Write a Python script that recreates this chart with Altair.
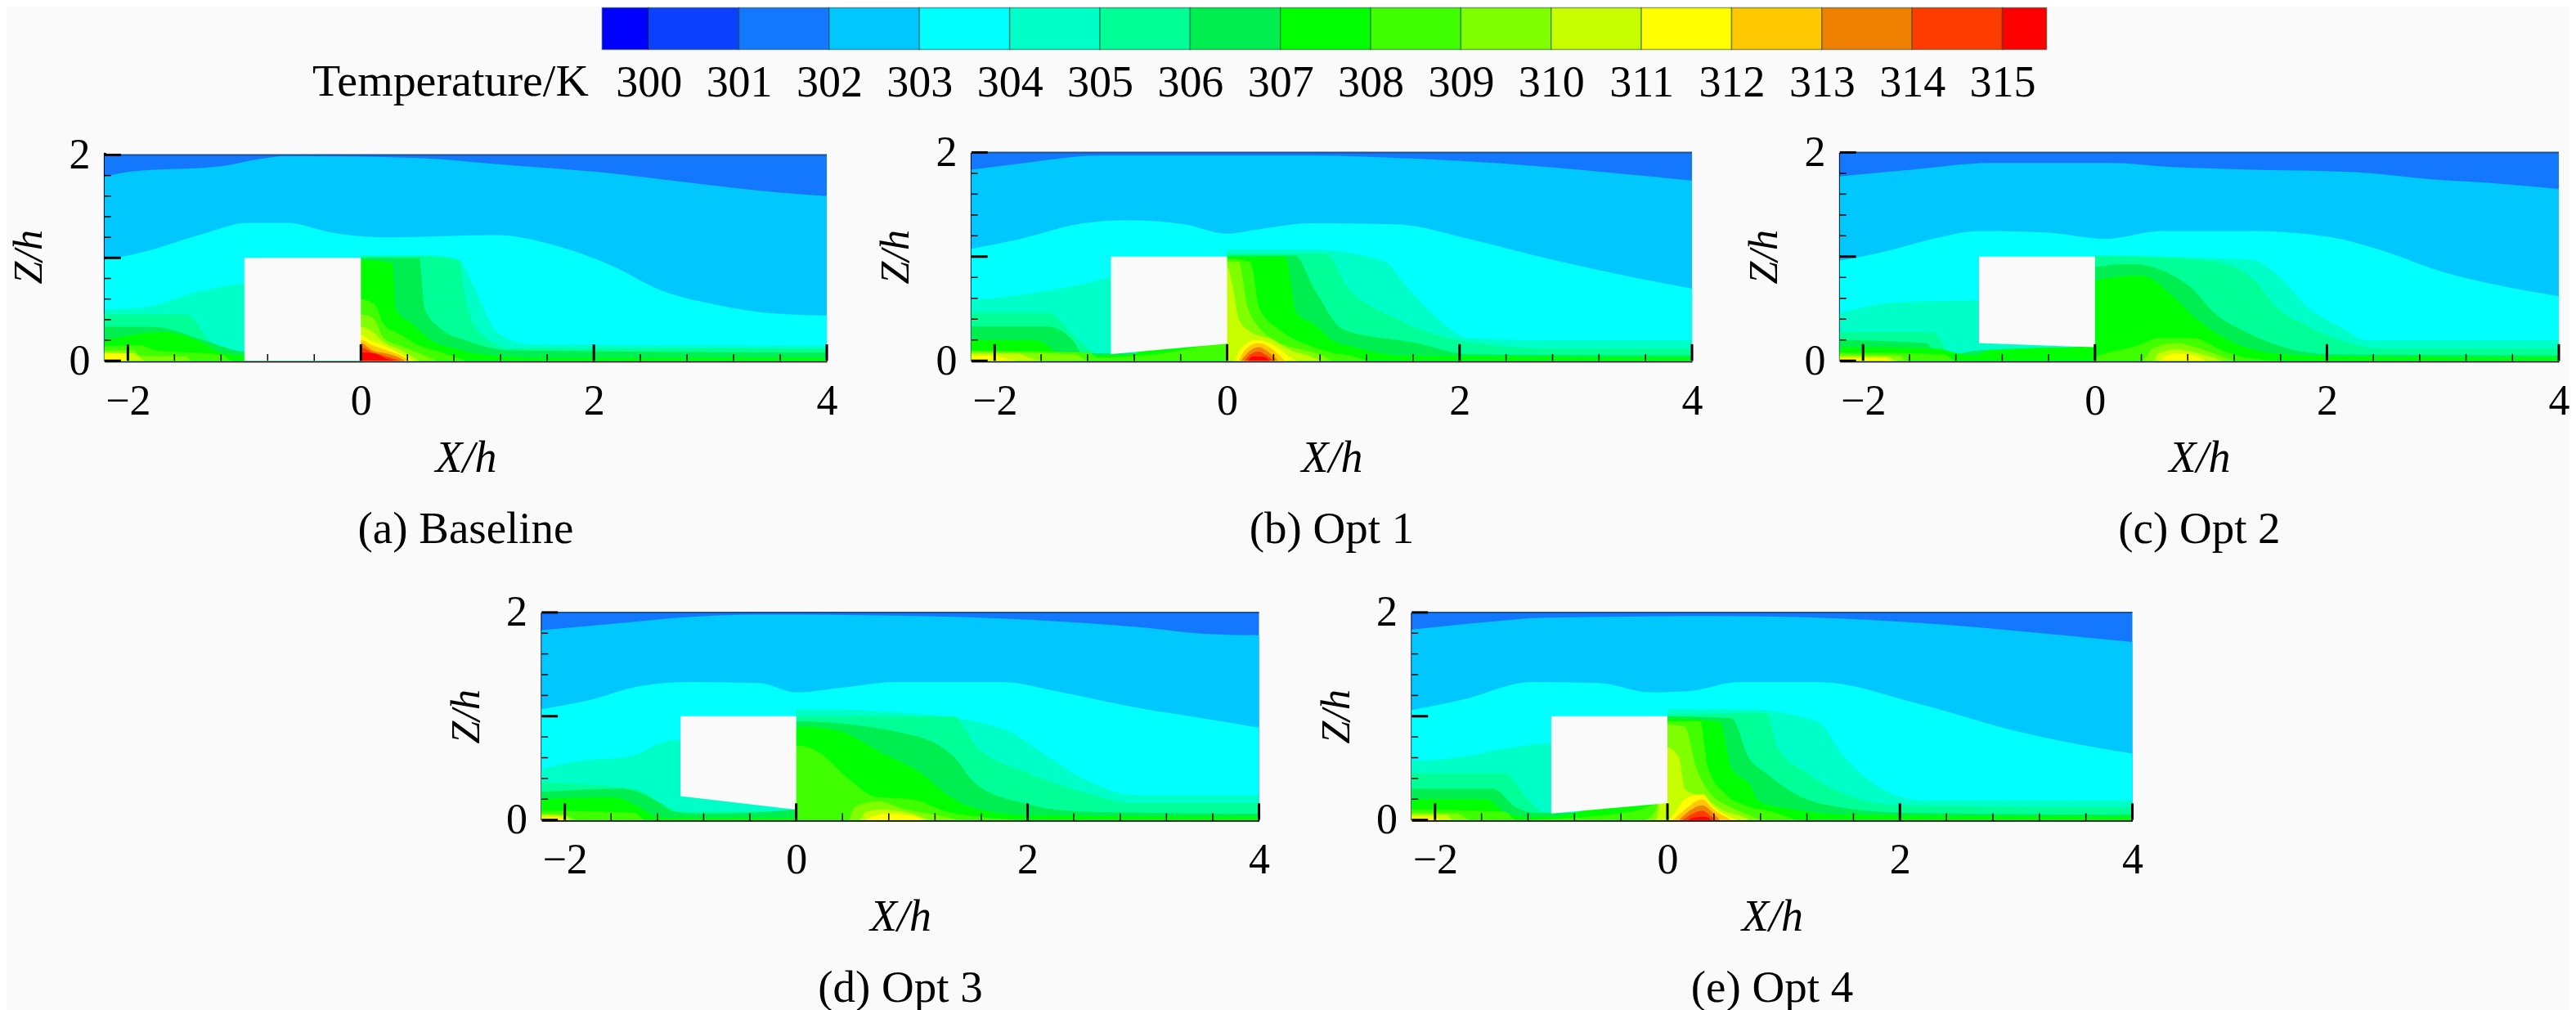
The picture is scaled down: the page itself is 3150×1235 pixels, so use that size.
import altair as alt
import pandas as pd

FONT = "Liberation Serif"
BG = "#fafafa"

tick_labels = list(range(300, 316))
bar_edges = [299.484] + tick_labels + [315.49]
bar_colors = ["#0000ff", "#0c40ff", "#1478ff", "#00c8ff", "#00ffff", "#00ffc8", "#00ff96", "#00ee50",
              "#00ff00", "#40ff00", "#80ff00", "#c8ff00", "#ffff00", "#ffc800", "#f08000", "#ff3c00", "#ff0000"]

# band ids map on the colorbar cells
levels = [301, 302, 303, 304, 305, 306, 307, 308, 309, 310, 311, 312, 313, 314, 315]
level_colors = ["#1478ff", "#00c8ff", "#00ffff", "#00ffc8", "#00ff96", "#00ee50", "#00ff00", "#40ff00",
                "#80ff00", "#c8ff00", "#ffff00", "#ffc800", "#f08000", "#ff3c00", "#ff0000"]

top_band = [(-2.2, 2), (4, 2)]

a_levels = {
    302: [(-2.2, 1.79), (-1.96, 1.84), (-1.2, 1.89), (-.87, 1.96), (-.63, 1.99), (.5, 1.97), (1.17, 1.91), (2.07, 1.83), (2.83, 1.73), (3.54, 1.64), (4, 1.6)],
    303: [(-2.2, .98), (-1.82, 1.07), (-1.39, 1.22), (-.96, 1.34), (-.63, 1.34), (-.25, 1.245), (.22, 1.2), (1.17, 1.22), (1.65, 1.125), (2.12, .94), (2.6, .675), (3.07, .54), (3.54, .46), (4, .44)],
    304: [(-2.2, .5), (-1.86, .52), (-1.39, .675), (-1, .75), (-.01, .8), (0, 1.02), (.6, 1.02), (.84, .98), (.98, .7), (1.17, .28), (1.46, .16), (4, .145)],
    305: [(-2.2, .45), (-1.5, .45), (-1.3, .2), (-1.2, .09), (-1, .08), (-.01, .08), (0, 1.02), (.55, 1.02), (.84, .98), (.9, .6), (1.0, .3), (1.3, .12), (4, .12)],
    306: [(-2.2, .33), (-1.77, .33), (-1.35, .2), (-1.01, .09), (-.5, .07), (-.01, .07), (0, 1.0), (.5, 1.0), (.55, .5), (.7, .3), (.9, .2), (1.3, .1), (4, .08)],
    307: [(-2.2, .2), (-1.7, .28), (-1.4, .2), (-1.2, .08), (-1, .05), (-.01, .05), (0, .98), (.27, .95), (.3, .5), (.45, .35), (.6, .2), (.8, .12), (1.0, .07), (1.5, .03), (4, .03)],
    308: [(-2.2, .14), (-1.9, .15), (-1.75, .1), (-1.2, .06), (-1.1, 0), (-.01, 0), (0, .6), (.12, .55), (.2, .35), (.35, .25), (.5, .15), (.7, .08), (.9, 0)],
    309: [(-2.2, .1), (-1.95, .1), (-1.9, .05), (-1.5, .04), (-1.45, 0), (-.01, 0), (0, .45), (.1, .42), (.2, .22), (.35, .14), (.55, .05), (.65, 0)],
    310: [(-2.2, .08), (-1.95, .07), (-1.85, 0), (-.01, 0), (0, .33), (.08, .3), (.2, .18), (.35, .1), (.5, 0)],
    311: [(-2.2, .07), (-2.03, .07), (-2, 0), (-.01, 0), (0, .25), (.08, .2), (.2, .15), (.35, .06), (.45, 0)],
    312: [(-.01, 0), (0, .2), (.1, .15), (.25, .09), (.38, .03), (.42, 0)],
    313: [(-.01, 0), (0, .17), (.1, .1), (.22, .07), (.35, .02), (.38, 0)],
    314: [(-.01, 0), (0, .13), (.1, .08), (.2, .05), (.32, .01), (.35, 0)],
    315: [(-.01, 0), (0, .08), (.12, .07), (.2, .03), (.3, 0)],
}
a_hole = [(-1, 0), (0, 0)]

b_levels = {
    302: [(-2.2, 1.835), (-1.74, 1.9), (-1.1, 1.97), (.72, 1.97), (1.63, 1.94), (2.76, 1.86), (3.45, 1.79), (4, 1.73)],
    303: [(-2.2, 1.075), (-1.78, 1.17), (-1.24, 1.32), (-.87, 1.35), (-.37, 1.31), (0, 1.22), (.26, 1.26), (.72, 1.32), (1.45, 1.31), (2.08, 1.17), (2.76, .98), (3.45, .81), (4, .695)],
    304: [(-2.2, .58), (-1.74, .64), (-1.19, .75), (-1, .8), (-.01, .8), (0, 1.07), (.72, 1.07), (1.35, .96), (1.54, .72), (1.81, .41), (2.08, .22), (2.76, .2), (4, .2)],
    305: [(-2.2, .46), (-1.55, .46), (-1.28, .2), (-1.1, .07), (-.01, .07), (0, 1.03), (.85, 1.03), (1.03, .72), (1.45, .41), (1.9, .22), (2.76, .12), (4, .12)],
    306: [(-2.2, .33), (-1.55, .33), (-1.33, .2), (-1.24, .07), (-.01, .1), (0, 1.01), (.58, 1.01), (.76, .67), (1.0, .3), (1.63, .17), (2.08, .065), (4, .05)],
    307: [(-2.2, .2), (-1.65, .2), (-1.42, .065), (-1.05, .05), (-.8, .06), (-.75, .1), (-.1, .2), (0, 1.0), (.5, 1.0), (.6, .45), (.75, .35), (.9, .2), (1.1, .13), (1.5, .05), (4, .03)],
    308: [(-2.2, .1), (-1.2, .08), (-1.1, .03), (-.01, .2), (0, .98), (.2, .95), (.28, .5), (.45, .3), (.7, .15), (.9, .08), (1.1, .04), (1.2, 0)],
    309: [(-2.2, .09), (-1.3, .06), (-1.2, 0), (-.01, 0), (0, .95), (.1, .95), (.18, .5), (.4, .2), (.6, .12), (.8, .06), (.9, 0)],
    310: [(-2.2, .07), (-1.8, .07), (-1.7, .03), (-1.6, 0), (-.01, 0), (0, .9), (.05, .7), (.1, .4), (.2, .28), (.4, .2), (.55, .1), (.7, .05), (.8, 0)],
    311: [(-2.2, .05), (-2, .05), (-1.9, .02), (-1.8, 0), (.05, 0), (.12, .12), (.25, .2), (.4, .15), (.55, .03), (.6, 0)],
    312: [(.1, 0), (.15, .1), (.27, .17), (.38, .12), (.47, .03), (.5, 0)],
    313: [(.12, 0), (.18, .08), (.27, .13), (.36, .08), (.44, 0)],
    314: [(.15, 0), (.2, .06), (.27, .09), (.34, .05), (.4, 0)],
    315: [(.18, 0), (.22, .04), (.3, .04), (.37, 0)],
}
b_hole = [(-1, .065), (0, .165)]

c_levels = {
    302: [(-2.2, 1.77), (-1.58, 1.835), (-.9, 1.9), (.13, 1.9), (.67, 1.86), (1.35, 1.835), (2.25, 1.81), (2.92, 1.74), (3.5, 1.7), (4, 1.65)],
    303: [(-2.2, .96), (-1.77, 1.06), (-1.36, 1.18), (-1, 1.245), (-.41, 1.23), (.09, 1.17), (.58, 1.245), (1.35, 1.245), (2.01, 1.19), (2.47, 1.06), (3.01, .85), (3.5, .72), (4, .62)],
    304: [(-2.2, .46), (-1.72, .56), (-1.05, .58), (-.01, .58), (0, 1.01), (1.35, .97), (1.57, .83), (1.84, .51), (2.11, .33), (2.34, .2), (4, .2)],
    305: [(-2.2, .275), (-1.4, .275), (-1.22, .04), (-.01, .04), (0, 1.01), (.99, .96), (1.35, .8), (1.57, .51), (1.84, .33), (2.11, .2), (2.47, .12), (4, .12)],
    306: [(-2.2, .2), (-1.45, .17), (-1.36, .04), (-1, .1), (-.01, .14), (0, .9), (.31, .93), (.81, .72), (1.03, .46), (1.35, .25), (1.66, .12), (2.01, .065), (4, .05)],
    307: [(-2.2, .13), (-1.4, .12), (-1.05, .05), (-.9, .1), (-.6, .12), (-.01, .14), (0, .77), (.4, .82), (.67, .62), (.9, .38), (1.12, .22), (1.44, .09), (2, .04), (4, .03)],
    308: [(-2.2, .08), (-1.3, .06), (-1.2, 0), (-.01, 0), (0, .03), (.35, .14), (.55, .22), (.85, .22), (1.1, .1), (1.3, .03), (1.6, 0)],
    309: [(-2.2, .06), (-1.7, .05), (-1.6, 0), (.4, 0), (.5, .12), (.7, .17), (.9, .12), (1.1, .04), (1.2, 0)],
    310: [(-2.2, .04), (-1.8, .04), (-1.7, 0), (.5, 0), (.55, .07), (.7, .11), (.9, .07), (1.1, 0)],
    311: [(-2.2, .025), (-1.8, .025), (-1.75, 0), (.55, 0), (.6, .04), (.7, .07), (.85, .05), (.95, 0)],
}
c_hole = [(-1, .17), (0, .13)]

d_levels = {
    302: [(-2.2, 1.83), (-1.49, 1.9), (-1.02, 1.95), (-.32, 1.98), (.85, 1.97), (2.01, 1.93), (2.95, 1.86), (3.6, 1.79), (4, 1.78)],
    303: [(-2.2, 1.07), (-1.77, 1.16), (-1.35, 1.29), (-.93, 1.33), (-.32, 1.32), (0, 1.23), (.43, 1.28), (.85, 1.33), (1.78, 1.33), (2.25, 1.24), (2.95, 1.08), (3.51, .98), (4, .89)],
    304: [(-2.2, .49), (-1.87, .57), (-1.45, .61), (-1.07, .77), (-.01, .8), (0, 1.07), (1.08, 1.02), (1.83, .86), (2.11, .66), (2.48, .4), (2.95, .24), (4, .24)],
    305: [(-2.2, .36), (-1.4, .3), (-1.15, .15), (-1, .08), (-.01, .08), (0, 1.0), (1.36, 1.0), (1.55, .72), (2.01, .45), (2.48, .27), (2.95, .16), (4, .16)],
    306: [(-2.2, .27), (-1.5, .3), (-1.2, .18), (-1.05, .08), (-.8, .06), (-.01, .1), (0, .95), (.99, .82), (1.36, .61), (1.55, .35), (1.97, .16), (2.48, .08), (4, .06)],
    307: [(-2.2, .2), (-1.6, .22), (-1.35, .12), (-1.25, .05), (-1.1, .02), (-.01, .02), (0, .9), (.33, .87), (.75, .64), (1.08, .45), (1.31, .24), (1.55, .11), (2.01, .045), (4, .03)],
    308: [(-2.2, .09), (-1.4, .07), (-1.3, 0), (-.01, 0), (0, .72), (.2, .65), (.45, .4), (.7, .22), (1, .2), (1.3, .08), (1.6, .03), (1.9, 0)],
    309: [(-2.2, .06), (-2, .05), (-1.9, 0), (.45, 0), (.5, .12), (.7, .18), (.95, .1), (1.2, .05), (1.4, 0)],
    310: [(-2.2, .05), (-2, .04), (-1.95, 0), (.55, 0), (.6, .08), (.75, .1), (1, .06), (1.15, 0)],
    311: [(-2.2, .03), (-2.05, .03), (-2, 0), (.6, 0), (.65, .03), (.8, .06), (1, .04), (1.1, 0)],
}
d_hole = [(-1, .23), (0, .10)]

e_levels = {
    302: [(-2.2, 1.835), (-1.63, 1.9), (-1.04, 1.95), (.39, 1.965), (1.52, 1.94), (2.64, 1.86), (3.31, 1.79), (4, 1.715)],
    303: [(-2.2, 1.06), (-1.76, 1.16), (-1.17, 1.33), (-.59, 1.32), (-.14, 1.23), (.17, 1.24), (.62, 1.33), (1.29, 1.33), (2.19, 1.11), (2.95, .87), (3.53, .73), (4, .64)],
    304: [(-2.2, .57), (-1.76, .61), (-1.4, .69), (-1.04, .74), (-.01, .8), (0, 1.07), (.66, 1.07), (1.29, .95), (1.52, .61), (1.96, .24), (2.19, .19), (4, .19)],
    305: [(-2.2, .45), (-1.4, .45), (-1.2, .2), (-1.05, .07), (-.01, .07), (0, 1.02), (.85, 1.03), (.95, .7), (1.2, .45), (1.6, .22), (2, .14), (4, .12)],
    306: [(-2.2, .3), (-1.5, .3), (-1.3, .12), (-1.15, .07), (-.01, .07), (0, 1.0), (.55, .98), (.7, .6), (.85, .45), (1.1, .25), (1.5, .12), (2, .07), (4, .05)],
    307: [(-2.2, .2), (-1.55, .2), (-1.4, .07), (-1.2, .03), (-1, .03), (-.8, .07), (-.7, .1), (-.01, .18), (0, .98), (.45, .95), (.55, .5), (.7, .35), (.8, .17), (1.1, .1), (1.5, .05), (4, .03)],
    308: [(-2.2, .1), (-1.4, .08), (-1.3, 0), (-.5, .05), (-.1, .16), (0, .95), (.28, .95), (.35, .5), (.5, .25), (.7, .13), (.9, .08), (1.1, 0)],
    309: [(-2.2, .07), (-1.8, .06), (-1.7, 0), (-.2, 0), (-.1, .1), (0, .92), (.15, .9), (.25, .5), (.35, .28), (.55, .12), (.7, .05), (.8, 0)],
    310: [(-2.2, .05), (-1.9, .05), (-1.85, 0), (-.1, 0), (0, .7), (.1, .6), (.15, .3), (.3, .22), (.5, .08), (.65, .03), (.7, 0)],
    311: [(-2.2, .03), (-2, .03), (-1.95, 0), (0, 0), (.05, .05), (.15, .2), (.3, .25), (.4, .12), (.5, .05), (.6, 0)],
    312: [(.05, 0), (.15, .1), (.3, .2), (.4, .1), (.5, .03), (.55, 0)],
    313: [(.1, 0), (.18, .08), (.3, .14), (.38, .08), (.45, 0)],
    314: [(.13, 0), (.2, .05), (.3, .09), (.38, .03), (.42, 0)],
    315: [(.18, 0), (.22, .02), (.32, .03), (.38, 0)],
}
e_hole = [(-1, .063), (0, .163)]

hole_top = 1.0
x_major = [-2, 0, 2, 4]
x_minor = [-1.6, -1.2, -.8, -.4, .4, .8, 1.2, 1.6, 2.4, 2.8, 3.2, 3.6]
z_major = [0, 1, 2]
z_minor = [.2, .4, .6, .8, 1.2, 1.4, 1.6, 1.8]
x_major_len, x_minor_len = .16, .065
z_major_len, z_minor_len = .14, .055

captions = ["(a) Baseline", "(b) Opt 1", "(c) Opt 2", "(d) Opt 3", "(e) Opt 4"]


def spacer(w, h):
    return alt.Chart(pd.DataFrame({"v": [0]})).mark_rect(opacity=0).encode(
        x=alt.value(0)).properties(width=w, height=h)


def panel(levels_map, hole, caption, w, h, zmax=2):
    rows = [{"band": 301, "x": p[0], "z": p[1], "z0": 0} for p in top_band]
    for lev in sorted(levels_map):
        rows += [{"band": lev, "x": p[0], "z": p[1], "z0": 0} for p in levels_map[lev]]
    xs = alt.Scale(domain=[-2.2, 4], nice=False, zero=False)
    zs = alt.Scale(domain=[0, zmax], nice=False, zero=False)
    xaxis = alt.Axis(values=x_major, format="d", ticks=False, grid=False, domainColor="black", domainWidth=3,
                     labelFont=FONT, labelFontSize=52, labelColor="black", labelPadding=24, labelFlush=False,
                     labelOverlap=False, labelBound=False, title="X/h", titleFont=FONT, titleFontSize=54,
                     titleFontStyle="italic", titleFontWeight="normal", titleColor="black", titlePadding=17)
    zaxis = alt.Axis(values=z_major, format="d", ticks=False, grid=False, domainColor="black", domainWidth=3,
                     labelFont=FONT, labelFontSize=52, labelColor="black", labelPadding=18, labelFlush=False,
                     labelOverlap=False, labelBound=False, title="Z/h", titleFont=FONT, titleFontSize=50,
                     titleFontStyle="italic", titleFontWeight="normal", titleColor="black", titlePadding=23)
    areas = alt.Chart(pd.DataFrame(rows)).mark_area(interpolate="monotone", opacity=1).encode(
        x=alt.X("x:Q", scale=xs, axis=xaxis),
        y=alt.Y("z:Q", scale=zs, axis=zaxis, stack=None),
        y2="z0:Q",
        color=alt.Color("band:N", scale=alt.Scale(domain=levels, range=level_colors), legend=None),
    )
    hole_df = pd.DataFrame({"x": [p[0] for p in hole], "z": [p[1] for p in hole], "top": [hole_top] * len(hole)})
    hole_mark = alt.Chart(hole_df).mark_area(color=BG, opacity=1).encode(x="x:Q", y=alt.Y("z:Q", stack=None), y2="top:Q")
    top_line = alt.Chart(pd.DataFrame({"x": [-2.2], "x2": [4], "z": [2]})).mark_rule(color="#1a4f9a", strokeWidth=2).encode(
        x="x:Q", x2="x2:Q", y="z:Q")
    ticks = []
    for vals, ln, sw in [(x_major, x_major_len, 3), (x_minor, x_minor_len, 1.5)]:
        df = pd.DataFrame({"x": vals, "z": [0] * len(vals), "z2": [ln] * len(vals)})
        ticks.append(alt.Chart(df).mark_rule(color="black", strokeWidth=sw).encode(x="x:Q", y="z:Q", y2="z2:Q"))
    for vals, ln, sw in [(z_major, z_major_len, 3), (z_minor, z_minor_len, 1.5)]:
        df = pd.DataFrame({"z": vals, "x": [-2.2] * len(vals), "x2": [-2.2 + ln] * len(vals)})
        ticks.append(alt.Chart(df).mark_rule(color="black", strokeWidth=sw).encode(x="x:Q", x2="x2:Q", y="z:Q"))
    return alt.layer(areas, hole_mark, top_line, *ticks).properties(
        width=w, height=h,
        title=alt.TitleParams(caption, orient="bottom", anchor="middle", font=FONT, fontSize=55, fontWeight="normal",
                              color="black", offset=34),
    )


bar_df = pd.DataFrame({"lo": bar_edges[:-1], "hi": bar_edges[1:], "c": bar_colors})
bar = alt.Chart(bar_df).mark_rect(strokeWidth=1.5, stroke="#0a3a30", strokeOpacity=.45).encode(
    x=alt.X("lo:Q", scale=alt.Scale(domain=[bar_edges[0], bar_edges[-1]], nice=False, zero=False),
            axis=alt.Axis(values=tick_labels, format="d", ticks=False, domain=False, grid=False, labelFont=FONT,
                          labelFontSize=54, labelColor="black", labelPadding=14, labelFlush=False, labelOverlap=False,
                          labelBound=False, title="Temperature/K", titleFont=FONT, titleFontSize=56,
                          titleFontWeight="normal", titleColor="black", titleAlign="right", titleAnchor="start",
                          titleBaseline="middle", titleX=-17, titleY=39)),
    x2="hi:Q",
    color=alt.Color("c:N", scale=None, legend=None),
).properties(width=1768, height=51)


def row(*cells):
    return alt.hconcat(*cells, spacing=0, bounds="flush")


row_bar = row(spacer(729, 51), bar)
row_top = row(spacer(120, 255), panel(a_levels, a_hole, captions[0], 884, 255, zmax=2.024), spacer(177, 255),
              panel(b_levels, b_hole, captions[1], 882, 255), spacer(181, 255),
              panel(c_levels, c_hole, captions[2], 880, 255))
row_bottom = row(spacer(655, 254), panel(d_levels, d_hole, captions[3], 878, 254), spacer(187, 254),
                 panel(e_levels, e_hole, captions[4], 882, 254))

chart = alt.vconcat(row_bar, spacer(10, 32), row_top, spacer(10, 48), row_bottom, spacing=0).properties(
    padding=0, background=BG
).configure_view(stroke=None)

chart.save("out.html", embed_options={"renderer": "svg", "actions": False})
